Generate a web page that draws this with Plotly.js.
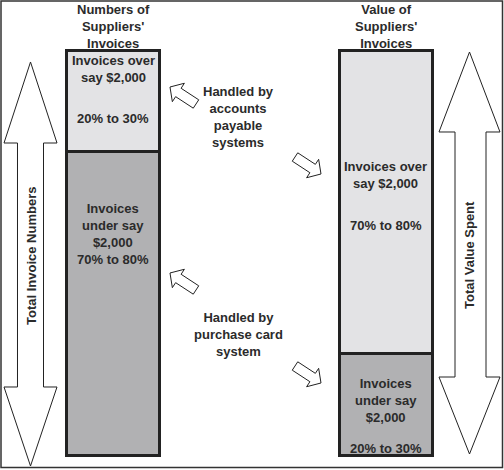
<!DOCTYPE html>
<html>
<head>
<meta charset="utf-8">
<script src="https://cdn.plot.ly/plotly-3.0.1.min.js"></script>
<style>html,body{margin:0;padding:0;background:#fff;}#chart{width:504px;height:470px;}</style>
</head>
<body>
<div id="chart"></div>
<script>
// ---- data ----
const categories = ["Numbers of Suppliers' Invoices", "Value of Suppliers' Invoices"];
const headerLabels = ["Numbers of<br>Suppliers'<br>Invoices", "Value of<br>Suppliers'<br>Invoices"];
const underValues = [75, 25];   // invoices under say $2,000 (share %)
const overValues = [25, 75];    // invoices over say $2,000 (share %)
const overLabels = ["Invoices over<br>say $2,000", "Invoices over<br>say $2,000"];
const overRanges = ["20% to 30%", "70% to 80%"];
const underLabels = ["Invoices<br>under say<br>$2,000", "Invoices<br>under say<br>$2,000"];
const underRanges = ["70% to 80%", "20% to 30%"];
const handledLabels = ["Handled by<br>accounts<br>payable<br>systems", "Handled by<br>purchase card<br>system"];
const sideLabels = ["Total Invoice Numbers", "Total Value Spent"];

// ---- layout helpers ----
const W = 504, H = 470;
const TXT = '#2b2b2b';
const FONT = 'Liberation Sans, Arial, sans-serif';
function px(x) { return x / W; }
function py(y) { return 1 - y / H; }
function pathFrom(pts) {
  return 'M ' + pts.map(p => px(p[0]).toFixed(5) + ' ' + py(p[1]).toFixed(5)).join(' L ') + ' Z';
}
function smallArrow(tail, tip) {
  const dx = tip[0] - tail[0], dy = tip[1] - tail[1];
  const len = Math.hypot(dx, dy);
  const ux = dx / len, uy = dy / len, nx = -uy, ny = ux;
  const w = 5, h = 11, L = 10;
  const bx = tip[0] - ux * L, by = tip[1] - uy * L;
  return [
    [tail[0] + nx * w, tail[1] + ny * w],
    [bx + nx * w, by + ny * w],
    [bx + nx * h, by + ny * h],
    [tip[0], tip[1]],
    [bx - nx * h, by - ny * h],
    [bx - nx * w, by - ny * w],
    [tail[0] - nx * w, tail[1] - ny * w]
  ];
}
function shapePath(pts) {
  return { type: 'path', xref: 'paper', yref: 'paper', path: pathFrom(pts),
           fillcolor: '#ffffff', line: { color: '#222222', width: 1 } };
}
function ann(text, x, y, opts) {
  return Object.assign({ text: '<b>' + text + '</b>', xref: 'paper', yref: 'paper', x: px(x), y: py(y),
    xanchor: 'center', yanchor: 'middle', showarrow: false, align: 'center',
    font: { family: FONT, size: 13, color: TXT } }, opts || {});
}

// x axis: category 0 centred at 113px, category 1 at 385.5px
const cx0 = 113, cx1 = 385.5, unit = cx1 - cx0;
const xr = [-cx0 / unit, (W - cx0) / unit];
// y axis: 0 at 455px, 100 at 50px
const y0 = 455, y100 = 50, yunit = (y0 - y100) / 100;
const yr = [-(H - y0) / yunit, 100 + y100 / yunit];

const traces = [
  { type: 'bar', x: categories, y: underValues, name: 'Invoices under say $2,000',
    width: 93 / unit, marker: { color: '#b1b1b3', line: { color: '#222222', width: 3 } }, hoverinfo: 'skip' },
  { type: 'bar', x: categories, y: overValues, name: 'Invoices over say $2,000',
    width: 93 / unit, marker: { color: '#e3e3e5', line: { color: '#222222', width: 3 } }, hoverinfo: 'skip' }
];

const shapes = [
  { type: 'rect', xref: 'paper', yref: 'paper', x0: px(1), x1: px(502.5), y0: py(1), y1: py(467.5),
    line: { color: '#333333', width: 1.5 }, fillcolor: 'rgba(0,0,0,0)', layer: 'below' },
  shapePath([[30.5,62],[57,143],[43.5,143],[43.5,387],[57,387],[30.5,466],[4,387],[17.5,387],[17.5,143],[4,143]]),
  shapePath([[469.5,52],[500,132],[486,132],[486,377],[500,377],[469.5,454],[439,377],[455,377],[455,132],[439,132]]),
  shapePath(smallArrow([196,104],[170,87])),
  shapePath(smallArrow([295,157],[321,174])),
  shapePath(smallArrow([196,290],[170,273])),
  shapePath(smallArrow([295,366],[321,383]))
];

const annotations = [
  ann(headerLabels[0], cx0, 26.5),
  ann(headerLabels[1], cx1, 26.5),
  ann(overLabels[0], cx0, 68.5),
  ann(overRanges[0], cx0, 118),
  ann(underLabels[0] + '<br>' + underRanges[0], cx0, 234),
  ann(overLabels[1], cx1, 175),
  ann(overRanges[1], cx1, 226),
  ann(underLabels[1], cx1, 400),
  ann(underRanges[1], cx1, 448),
  ann(handledLabels[0], 238, 117),
  ann(handledLabels[1], 238, 334),
  ann(sideLabels[0], 31, 256, { textangle: -90 }),
  ann(sideLabels[1], 470, 255, { textangle: -90 })
];

const layout = {
  width: W, height: H,
  margin: { l: 0, r: 0, t: 0, b: 0, pad: 0 },
  paper_bgcolor: '#ffffff', plot_bgcolor: '#ffffff',
  barmode: 'stack', showlegend: false, hovermode: false,
  xaxis: { type: 'category', range: xr, visible: false, fixedrange: true },
  yaxis: { range: yr, visible: false, fixedrange: true },
  shapes: shapes,
  annotations: annotations
};

Plotly.newPlot('chart', traces, layout, { staticPlot: true, displayModeBar: false });
</script>
</body>
</html>
